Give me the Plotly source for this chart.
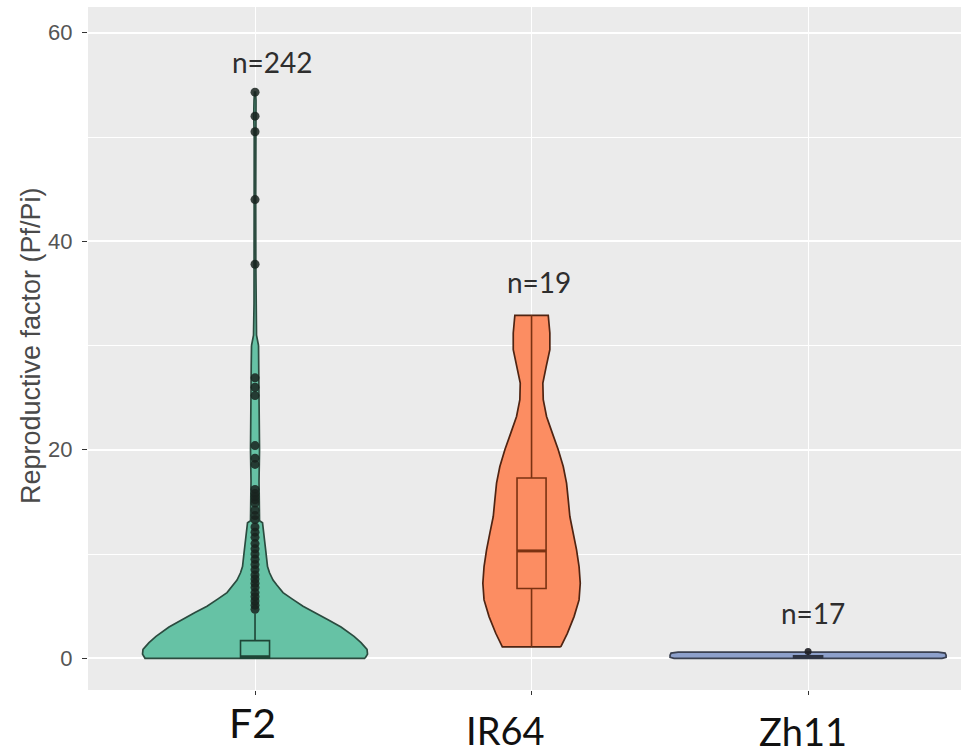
import plotly.graph_objects as go
import numpy as np

# ---------------- data ----------------
categories = ["F2", "IR64", "Zh11"]
n_counts = [242, 19, 17]
n_label_y = [57.2, 36.1, 4.3]

# violin outlines: value (y) and half-width of the density (pixels at 276.5 px per category)
f2_vals = [0, 0.4, 0.85, 1.5, 2.1, 3.0, 3.7, 4.4, 5.0, 5.7, 6.3, 7.0, 7.5, 8.2, 8.8,
           10.1, 11.5, 13.0, 13.2, 15, 17, 20, 23, 26, 28, 30, 31, 34, 38, 44, 50, 52, 53.5, 54.3]
f2_half = [110, 112.5, 112, 106, 99, 86, 73, 60, 48, 37, 28, 22, 18, 14.5, 12.5,
           11, 9, 7.5, 4.5, 4.3, 4, 4.5, 4, 4, 3.8, 3.5, 1.5, 1, 0.8, 0.7, 0.8, 1.3, 1.0, 0.5]

ir64_vals = [1.1, 2.4, 4.0, 5.6, 7.2, 8.8, 10.4, 12.0, 13.6, 15.2, 16.8, 18.4, 20.0,
             21.6, 23.2, 24.8, 26.4, 28.0, 29.6, 31.2, 32.9]
ir64_half = [29.2, 35.8, 42.5, 47.5, 48.7, 47.5, 45, 41.7, 38.3, 36.7, 35, 31.7, 26.7,
             20.8, 15, 11.7, 11.3, 14.7, 18.3, 18.3, 16.7]

zh11_vals = [0, 0.1, 0.3, 0.5, 0.6]
zh11_half = [134, 138, 138, 137, 130]

# box statistics
box_q1 = [0.0, 6.7, 0.05]
box_median = [0.15, 10.3, 0.12]
box_q3 = [1.7, 17.3, 0.25]
box_low = [0.0, 1.1, 0.0]
box_high = [4.3, 32.9, 0.45]

# outliers
f2_outliers = [54.3, 52.0, 50.5, 44.0, 37.8, 26.9, 26.0, 25.2, 20.4, 19.2, 18.6, 16.2, 15.8,
               15.5, 15.2, 14.9, 14.2, 13.7, 13.3, 12.6, 12.1, 11.6, 11.0, 10.5, 10.0, 9.5,
               9.0, 8.5, 8.0, 7.6, 7.2, 6.8, 6.3, 5.9, 5.5, 5.1, 4.7]
zh11_outliers = [0.65]

# ---------------- styling ----------------
PX_PER_CAT = 276.5
X_RANGE = [0.396, 3.553]
Y_RANGE = [-3.04, 62.47]
BOX_W = 0.105
fills = ["#66C2A5", "#FC8D62", "#8DA0CB"]
outlines = ["#2b4b3f", "#4f2412", "#3a4050"]
box_lines = ["#1e4536", "#7a3212", "#2e3444"]

fig = go.Figure()

profiles = [(f2_vals, f2_half), (ir64_vals, ir64_half), (zh11_vals, zh11_half)]
for i, (vals, half) in enumerate(profiles):
    c = i + 1
    v = np.array(vals, dtype=float)
    h = np.array(half, dtype=float) / PX_PER_CAT
    xs = np.concatenate([c + h, (c - h)[::-1], [c + h[0]]])
    ys = np.concatenate([v, v[::-1], [v[0]]])
    fig.add_trace(go.Scatter(x=xs, y=ys, mode="lines", fill="toself",
                             fillcolor=fills[i],
                             line=dict(color=outlines[i], width=1.7),
                             hoverinfo="skip"))

# boxes and outliers on an overlaying axis pair so they sit above the violins
for i in range(3):
    fig.add_trace(go.Box(x=[i + 1], q1=[box_q1[i]], median=[box_median[i]],
                         q3=[box_q3[i]], lowerfence=[box_low[i]],
                         upperfence=[box_high[i]], width=BOX_W, orientation="v",
                         fillcolor=fills[i], line=dict(color=box_lines[i], width=1.6),
                         boxpoints=False, whiskerwidth=0, xaxis="x2", yaxis="y2"))
    # thicker median stroke, as in ggplot
    fig.add_trace(go.Scatter(x=[i + 1 - BOX_W / 2, i + 1 + BOX_W / 2],
                             y=[box_median[i], box_median[i]], mode="lines",
                             line=dict(color=box_lines[i], width=3),
                             xaxis="x2", yaxis="y2", hoverinfo="skip"))

fig.add_trace(go.Scatter(x=[1] * len(f2_outliers), y=f2_outliers, mode="markers",
                         xaxis="x2", yaxis="y2",
                         marker=dict(size=9, color="rgba(25,35,30,0.85)", line=dict(width=0))))
fig.add_trace(go.Scatter(x=[3] * len(zh11_outliers), y=zh11_outliers, mode="markers",
                         xaxis="x2", yaxis="y2",
                         marker=dict(size=7, color="rgba(30,30,35,0.9)", line=dict(width=0))))

annotations = []
# y axis title
annotations.append(dict(text="Reproductive factor (Pf/Pi)", xref="paper", yref="paper",
                        x=-0.0653, y=0.505, textangle=-90, showarrow=False,
                        xanchor="center", yanchor="middle",
                        font=dict(family="Liberation Sans, Arial", size=27, color="#4a4a4a")))
# n labels
n_shift = [17, 7, 5]
for i in range(3):
    annotations.append(dict(text=f"n={n_counts[i]}", x=i + 1, y=n_label_y[i], xref="x", yref="y",
                            xshift=n_shift[i], showarrow=False, xanchor="center", yanchor="middle",
                            font=dict(family="Lato, Open Sans", size=28, color="#2e2e2e")))
# category labels
cat_shift = [-3, -26, -5]
cat_y = [-0.047, -0.058, -0.060]
cat_size = [41, 38, 38]
for i in range(3):
    annotations.append(dict(text=categories[i], x=i + 1, y=cat_y[i], xref="x", yref="paper",
                            xshift=cat_shift[i], showarrow=False, xanchor="center", yanchor="middle",
                            font=dict(family="Lato, Open Sans", size=cat_size[i], color="#111111")))

fig.update_layout(
    width=961, height=753,
    margin=dict(l=88, r=0, t=7, b=63),
    plot_bgcolor="#EBEBEB", paper_bgcolor="white",
    showlegend=False, boxmode="overlay",
    annotations=annotations,
    xaxis=dict(range=X_RANGE, tickvals=[1, 2, 3], showticklabels=False,
               ticks="outside", ticklen=4, tickcolor="#333333", tickwidth=1,
               showgrid=True, gridcolor="white", gridwidth=1.1,
               zeroline=False, showline=False),
    yaxis=dict(range=Y_RANGE, tickvals=[0, 20, 40, 60],
               ticks="outside", ticklen=5, tickcolor="#333333", tickwidth=1,
               ticklabelstandoff=5,
               tickfont=dict(family="Liberation Sans, Arial", size=22, color="#555555"),
               showgrid=True, gridcolor="white", gridwidth=1.5,
               minor=dict(tickvals=[10, 30, 50], showgrid=True, gridcolor="white",
                          gridwidth=0.8, ticks=""),
               zeroline=False, showline=False),
    xaxis2=dict(range=X_RANGE, overlaying="x", visible=False, showgrid=False, zeroline=False),
    yaxis2=dict(range=Y_RANGE, overlaying="y", visible=False, showgrid=False, zeroline=False),
)

fig.write_html("out.html")
